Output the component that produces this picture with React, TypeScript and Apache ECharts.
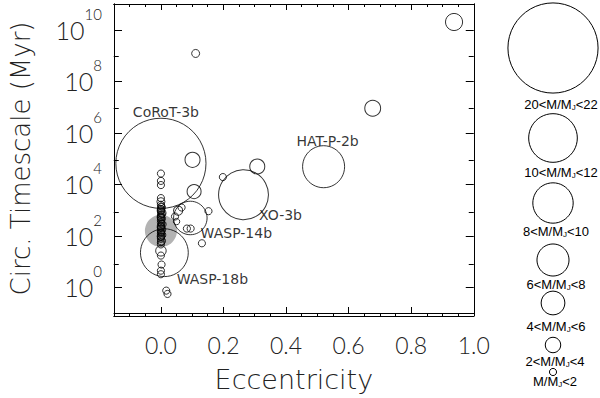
import React, { useEffect, useRef } from 'react';
import * as echarts from 'echarts';

// ---- axis ticks ----
const xMajorTicks = [0, 0.2, 0.4, 0.6, 0.8, 1.0];
const xMinorTicks = [-0.15, -0.1, -0.05, 0.05, 0.1, 0.15, 0.25, 0.3, 0.35, 0.45, 0.5, 0.55, 0.65, 0.7, 0.75, 0.85, 0.9, 0.95];
const yMajorTicks = [1, 1e2, 1e4, 1e6, 1e8, 1e10];
const yMinorTicks = [1e1, 1e3, 1e5, 1e7, 1e9];

// ---- named planets (eccentricity, circularisation timescale in Myr, mass in Jupiter masses) ----
const namedPlanets = ['CoRoT-3b', 'HAT-P-2b', 'XO-3b', 'WASP-14b', 'WASP-18b'];
const namedEcc = [0.0, 0.52, 0.264, 0.094, 0.011];
const namedTau = [6.5e4, 4.8e4, 3.9e3, 4.9e2, 22];
const namedMass = [21.0, 9.4, 11.3, 7.35, 10.8];

// ---- highlighted (grey filled) planet ----
const greyEcc = [0.0];
const greyTau = [155];
const greyMass = [7.0];

// ---- other planets ----
const otherEcc = [
  0.937, 0.111, 0.677, 0.308, 0.101, 0.198, 0.106, 0.152, 0.131, 0.083, 0.095,
  0.055, 0.045, 0.066, 0.05, 0.017, 0.021,
  0.0, 0.0, 0.0, 0.0, 0.0,
  0.0, 0.002, 0.0, 0.0, 0.003, 0.0, 0.0, 0.002, 0.0, 0.0, 0.004, 0.0,
  0.0, 0.002, 0.0, 0.0, 0.003, 0.0, 0.0, 0.002, 0.0, 0.0,
  0.001, 0.0, 0.003, 0.0, 0.002, 0.0, 0.001, 0.0,
  0.0, 0.0, 0.002, 0.0, 0.0,
];
const otherTau = [
  2.0e10, 1.2e9, 8.9e6, 4.9e4, 8.9e4, 1.9e4, 5.2e3, 900, 51, 190, 190,
  950, 560, 1250, 355, 0.74, 0.55,
  2.6e4, 1.35e4, 9.3e3, 2.9e3, 2.1e3,
  1600, 1250, 1100, 890, 760, 630, 550, 460, 400, 330, 280, 245,
  200, 175, 150, 125, 107, 89, 76, 63, 55, 46,
  1400, 980, 700, 510, 300, 220, 135, 95,
  26, 17, 7.6, 4.4, 3.2,
];
const otherMass = [
  3.4, 1.2, 3.1, 2.9, 2.9, 1.0, 2.65, 1.0, 1.0, 1.0, 1.0,
  1.5, 1.0, 1.0, 0.8, 1.0, 1.0,
  1.0, 1.0, 1.0, 1.0, 1.2,
  1.0, 1.2, 1.0, 1.0, 1.3, 1.0, 1.0, 1.2, 1.0, 1.0, 1.2, 1.0,
  1.0, 1.3, 1.0, 1.0, 1.2, 1.0, 1.0, 1.2, 1.0, 1.0,
  0.9, 1.1, 0.9, 1.1, 0.9, 1.1, 0.9, 1.1,
  1.8, 1.0, 1.0, 1.0, 1.0,
];

// ---- size legend ----
const legendMass = [21, 11, 9, 7, 5, 3, 1];
const legendLow = ['20', '10', '8', '6', '4', '2', ''];
const legendHigh = ['22', '12', '10', '8', '6', '4', '2'];

// ---- layout / style (not data) ----
const legendCircleX = 553;
const legendCircleY = [48, 138, 203, 260, 303, 345, 372];
const legendLabelX = [561, 561, 556, 556, 556, 555, 555];
const legendLabelY = [104, 172, 231, 284, 326, 361, 381];
const labelOffsets: Record<string, number[]> = {
  'CoRoT-3b': [5, -51],
  'HAT-P-2b': [4, -26],
  'XO-3b': [37, 20],
  'WASP-14b': [46, 15],
  'WASP-18b': [48, 26],
};

const TICK_FONT = 'Lato, "DejaVu Sans", sans-serif';
const TITLE_FONT = '"DejaVu Sans", Lato, sans-serif';
const LABEL_FONT = '"DejaVu Sans", sans-serif';
const LEGEND_FONT = '"Liberation Sans", Arial, sans-serif';
const TEXT_COLOR = '#222';
const sizeOf = (m: number) => 4.15 * m + 3;

const GRID = { left: 113.75, top: 4, width: 360, height: 312 };

function buildOption() {
  const lineStyle = { color: '#000', width: 1 };
  const baseX = (gridIndex: number, position: string, ticks: number[], len: number) => ({
    type: 'value',
    gridIndex,
    position,
    min: -0.15,
    max: 1.0,
    axisLine: { show: true, onZero: false, lineStyle },
    axisTick: { show: true, inside: true, length: len, customValues: ticks, lineStyle },
    axisLabel: { show: false },
    splitLine: { show: false },
  });
  const baseY = (gridIndex: number, position: string, ticks: number[], len: number) => ({
    type: 'log',
    logBase: 10,
    gridIndex,
    position,
    min: 0.1,
    max: 1e11,
    axisLine: { show: true, onZero: false, lineStyle },
    axisTick: { show: true, inside: true, length: len, customValues: ticks, lineStyle },
    axisLabel: { show: false },
    splitLine: { show: false },
    minorTick: { show: false },
  });

  const xAxis: any[] = [
    {
      ...baseX(0, 'bottom', xMajorTicks, 6),
      axisLabel: {
        show: true,
        customValues: xMajorTicks,
        formatter: (v: number) => v.toFixed(1),
        fontSize: 23,
        fontFamily: TICK_FONT,
        fontWeight: 300,
        color: TEXT_COLOR,
        margin: 20,
      },
      name: 'Eccentricity',
      nameLocation: 'middle',
      nameGap: 53,
      nameTextStyle: { fontSize: 27, fontFamily: TITLE_FONT, fontWeight: 200, color: TEXT_COLOR },
    },
    baseX(0, 'top', xMajorTicks, 6),
    baseX(1, 'bottom', xMinorTicks, 3),
    baseX(1, 'top', xMinorTicks, 3),
  ];
  const yAxis: any[] = [
    {
      ...baseY(0, 'left', yMajorTicks, 8),
      axisLabel: {
        show: true,
        customValues: yMajorTicks,
        margin: 12,
        formatter: (v: number) => `{b|10}{s|${Math.round(Math.log10(v))}}`,
        rich: {
          b: { fontSize: 25, fontFamily: TICK_FONT, fontWeight: 300, color: TEXT_COLOR },
          s: { fontSize: 15, fontFamily: TICK_FONT, fontWeight: 300, color: TEXT_COLOR, padding: [0, 0, 32, 0] },
        },
      },
      name: 'Circ. Timescale (Myr)',
      nameLocation: 'middle',
      nameGap: 80,
      nameRotate: 90,
      nameTextStyle: { fontSize: 26, fontFamily: TITLE_FONT, fontWeight: 200, color: TEXT_COLOR },
    },
    baseY(0, 'right', yMajorTicks, 8),
    baseY(1, 'left', yMinorTicks, 5),
    baseY(1, 'right', yMinorTicks, 5),
  ];

  const openStyle = { color: 'rgba(0,0,0,0)', borderColor: '#000', borderWidth: 1 };
  const sym = (val: number[]) => sizeOf(val[2]);

  const otherData = otherEcc.map((e, i) => [e, otherTau[i], otherMass[i]]);
  const greyData = greyEcc.map((e, i) => [e, greyTau[i], greyMass[i]]);
  const namedData = namedPlanets.map((n, i) => ({
    name: n,
    value: [namedEcc[i], namedTau[i], namedMass[i]],
    label: { offset: labelOffsets[n] },
  }));

  const series: any[] = [
    {
      type: 'scatter',
      xAxisIndex: 0,
      yAxisIndex: 0,
      data: greyData,
      symbol: 'circle',
      symbolSize: sym,
      itemStyle: { color: '#a0a0a0', borderWidth: 0 },
      z: 1,
      silent: true,
      clip: false,
    },
    {
      type: 'scatter',
      xAxisIndex: 0,
      yAxisIndex: 0,
      data: otherData,
      symbol: 'circle',
      symbolSize: sym,
      itemStyle: openStyle,
      z: 2,
      silent: true,
      clip: false,
    },
    {
      type: 'scatter',
      xAxisIndex: 0,
      yAxisIndex: 0,
      data: namedData,
      symbol: 'circle',
      symbolSize: sym,
      itemStyle: openStyle,
      z: 3,
      silent: true,
      clip: false,
      label: {
        show: true,
        position: 'inside',
        formatter: (p: any) => p.name,
        fontSize: 14,
        lineHeight: 14,
        fontFamily: LABEL_FONT,
        color: '#000',
      },
    },
  ];

  const graphic: any[] = [];
  legendMass.forEach((m, i) => {
    graphic.push({
      type: 'circle',
      shape: { cx: legendCircleX, cy: legendCircleY[i], r: sizeOf(m) / 2 },
      style: { fill: 'none', stroke: '#000', lineWidth: 1 },
      silent: true,
    });
    const lo = legendLow[i] ? `${legendLow[i]}<` : '';
    graphic.push({
      type: 'text',
      x: legendLabelX[i],
      y: legendLabelY[i],
      style: {
        text: `${lo}M/M{j|J}<${legendHigh[i]}`,
        fontSize: 13,
        fontFamily: LEGEND_FONT,
        fill: '#000',
        align: 'center',
        verticalAlign: 'middle',
        rich: {
          j: { fontSize: 8, fontFamily: LEGEND_FONT, fill: '#000', padding: [6, 0, 0, 0] },
        },
      },
      silent: true,
    });
  });

  return {
    animation: false,
    backgroundColor: '#fff',
    grid: [
      { ...GRID, containLabel: false },
      { ...GRID, containLabel: false },
    ],
    xAxis,
    yAxis,
    series,
    graphic,
  };
}

export default function App() {
  const ref = useRef<HTMLDivElement>(null);
  useEffect(() => {
    document.body.style.margin = '0';
    const chart = echarts.init(ref.current!, null, { renderer: 'svg' });
    chart.setOption(buildOption() as any);
    return () => chart.dispose();
  }, []);
  return (
    <div
      ref={ref}
      style={{ position: 'absolute', left: 0, top: 0, width: 600, height: 398, background: '#fff' }}
    />
  );
}
